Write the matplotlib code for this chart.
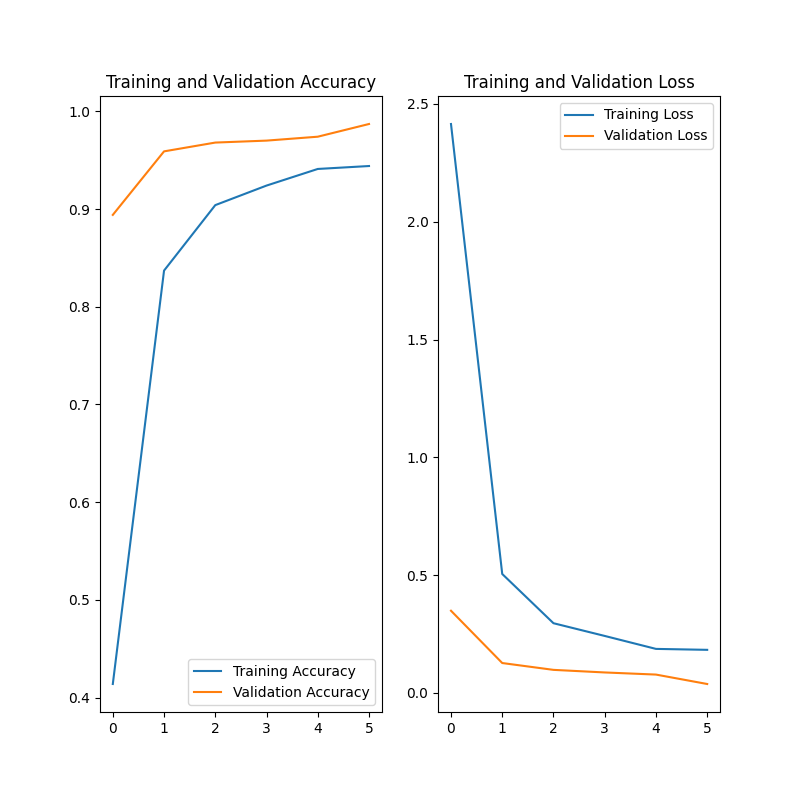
import matplotlib
matplotlib.use('Agg')
import matplotlib.pyplot as plt

epochs_range = [0, 1, 2, 3, 4, 5]
acc = [0.414, 0.837, 0.904, 0.924, 0.941, 0.944]
val_acc = [0.894, 0.959, 0.968, 0.970, 0.974, 0.987]
loss = [2.415, 0.505, 0.296, 0.242, 0.187, 0.183]
val_loss = [0.349, 0.127, 0.098, 0.087, 0.078, 0.038]

plt.figure(figsize=(8, 8))
plt.subplot(1, 2, 1)
plt.plot(epochs_range, acc, label='Training Accuracy')
plt.plot(epochs_range, val_acc, label='Validation Accuracy')
plt.legend(loc='lower right')
plt.title('Training and Validation Accuracy')

plt.subplot(1, 2, 2)
plt.plot(epochs_range, loss, label='Training Loss')
plt.plot(epochs_range, val_loss, label='Validation Loss')
plt.legend(loc='upper right')
plt.title('Training and Validation Loss')
plt.savefig('out.png', dpi=100)
